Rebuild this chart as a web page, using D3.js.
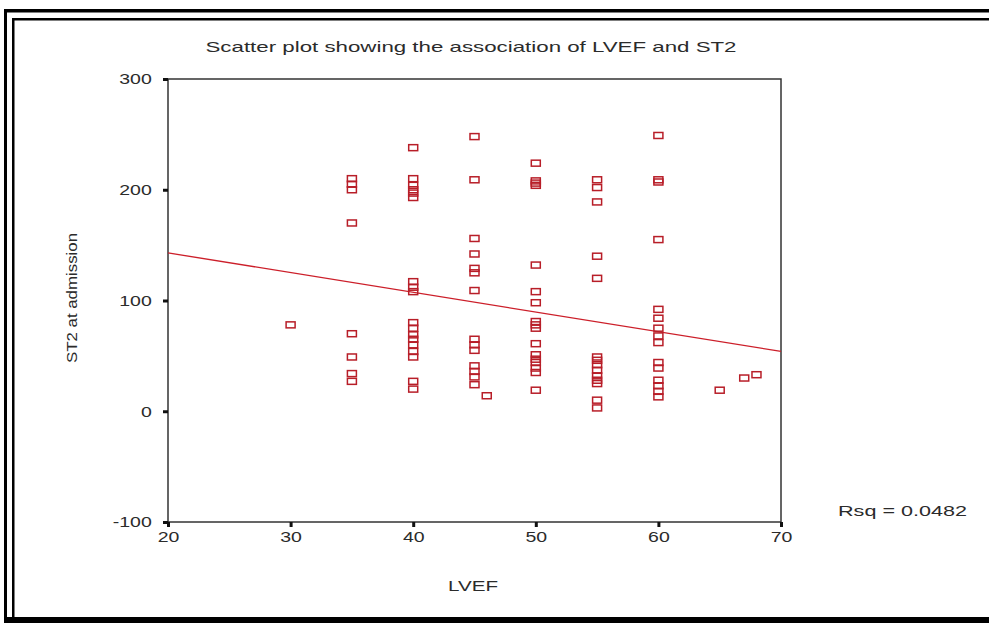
<!DOCTYPE html>
<html>
<head>
<meta charset="utf-8">
<script src="https://cdn.jsdelivr.net/npm/d3@7/dist/d3.min.js"></script>
<style>
  body { margin: 0; background: #fff; }
  text { font-family: "Liberation Sans", Arial, sans-serif; fill: #2b2b2b; }
</style>
</head>
<body>
<script>
//Data
var lvef = [30,
  35, 35, 35, 35, 35, 35, 35, 35,
  40, 40, 40, 40, 40, 40, 40, 40, 40, 40, 40, 40, 40, 40, 40, 40, 40, 40,
  45, 45, 45, 45, 45, 45, 45, 45, 45, 45, 45, 45, 45, 45,
  46,
  50, 50, 50, 50, 50, 50, 50, 50, 50, 50, 50, 50, 50, 50, 50, 50, 50,
  55, 55, 55, 55, 55, 55, 55, 55, 55, 55, 55, 55, 55, 55,
  60, 60, 60, 60, 60, 60, 60, 60, 60, 60, 60, 60, 60, 60, 60,
  65, 67, 68];
var st2 = [78,
  210, 205, 200, 170, 70, 49, 34, 27,
  238, 210, 204, 200, 197, 193, 117, 112, 108, 80, 75, 69, 65, 60, 54, 49, 27, 20,
  248, 209, 156, 142, 129, 125, 109, 65, 60, 55, 41, 36, 31, 24,
  14,
  224, 208, 206, 204, 132, 108, 98, 81, 78, 75, 61, 51, 47, 44, 39, 35, 19,
  209, 202, 189, 140, 120, 49, 46, 42, 37, 32, 28, 25, 10, 3,
  249, 209, 207, 155, 92, 84, 75, 68, 62, 44, 39, 28, 23, 18, 13,
  19, 30, 33];

//Fitted line (ST2 = a + b * LVEF) and its label
var fitIntercept = 178.6, fitSlope = -1.78;
var rsqLabel = "Rsq = 0.0482";

var xTicks = [20, 30, 40, 50, 60, 70];
var yTicks = [-100, 0, 100, 200, 300];

var points = lvef.map(function(d, i) { return {x: d, y: st2[i]}; });

//Define SVG
var svg = d3.select("body")
    .append("svg")
    .attr("width", 989)
    .attr("height", 623);

svg.append("rect").attr("width", 989).attr("height", 623).attr("fill", "#fff");

//Double frame round the picture
var frame = svg.append("g").attr("fill", "#000");
frame.append("rect").attr("x", 4).attr("y", 9).attr("width", 985).attr("height", 3.5);
frame.append("rect").attr("x", 4).attr("y", 9).attr("width", 3).attr("height", 614);
frame.append("rect").attr("x", 12).attr("y", 18).attr("width", 977).attr("height", 2.5);
frame.append("rect").attr("x", 12).attr("y", 18).attr("width", 2.5).attr("height", 605);
frame.append("rect").attr("x", 4).attr("y", 617).attr("width", 985).attr("height", 6);

//Scales
var x = d3.scaleLinear().domain([20, 70]).range([168, 781]);
var y = d3.scaleLinear().domain([-100, 300]).range([522, 79]);

//Plot box
svg.append("rect")
    .attr("x", x(20)).attr("y", y(300))
    .attr("width", x(70) - x(20)).attr("height", y(-100) - y(300))
    .attr("fill", "none")
    .attr("stroke", "#333")
    .attr("stroke-width", 1.5);

//Axes (plain hyphen for the minus, as in the original)
var plain = function(d) { return String(d); };
var xAxis = svg.append("g")
    .attr("transform", "translate(0," + y(-100) + ")")
    .call(d3.axisBottom(x).tickValues(xTicks).tickFormat(plain).tickSize(5).tickPadding(4));
var yAxis = svg.append("g")
    .attr("transform", "translate(" + x(20) + ",0)")
    .call(d3.axisLeft(y).tickValues(yTicks).tickFormat(plain).tickSize(5).tickPadding(4));

[xAxis, yAxis].forEach(function(a) {
  a.select(".domain").remove();
  a.selectAll(".tick line").attr("stroke", "#111").attr("stroke-width", 3);
  a.selectAll(".tick text")
      .style("font-size", "15px")
      .style("font-family", "'Liberation Sans', Arial, sans-serif")
      .attr("fill", "#2b2b2b")
      .attr("transform", "scale(1.3,1)");
});
yAxis.selectAll(".tick text").attr("x", -12.5);

//Fit line
svg.append("line")
    .attr("x1", x(20)).attr("y1", y(fitIntercept + fitSlope * 20))
    .attr("x2", x(70)).attr("y2", y(fitIntercept + fitSlope * 70))
    .attr("stroke", "#cc1f2a")
    .attr("stroke-width", 1.3);

//Markers, hollow boxes
svg.append("g")
    .selectAll("rect")
    .data(points)
    .enter().append("rect")
    .attr("x", function(d) { return x(d.x) - 4.5; })
    .attr("y", function(d) { return y(d.y) - 3; })
    .attr("width", 9)
    .attr("height", 6)
    .attr("fill", "none")
    .attr("stroke", "#b81e28")
    .attr("stroke-width", 1.5);

//Texts
svg.append("text")
    .attr("x", 471).attr("y", 52)
    .attr("text-anchor", "middle")
    .attr("textLength", 531).attr("lengthAdjust", "spacingAndGlyphs")
    .style("font-size", "15px")
    .text("Scatter plot showing the association of LVEF and ST2");

svg.append("text")
    .attr("transform", "translate(77,298) rotate(-90)")
    .attr("text-anchor", "middle")
    .attr("textLength", 130).attr("lengthAdjust", "spacingAndGlyphs")
    .style("font-size", "15px")
    .text("ST2 at admission");

svg.append("text")
    .attr("x", 473).attr("y", 591)
    .attr("text-anchor", "middle")
    .attr("textLength", 50).attr("lengthAdjust", "spacingAndGlyphs")
    .style("font-size", "15px")
    .text("LVEF");

svg.append("text")
    .attr("x", 838).attr("y", 516)
    .attr("textLength", 129).attr("lengthAdjust", "spacingAndGlyphs")
    .style("font-size", "15px")
    .text(rsqLabel);
</script>
</body>
</html>
